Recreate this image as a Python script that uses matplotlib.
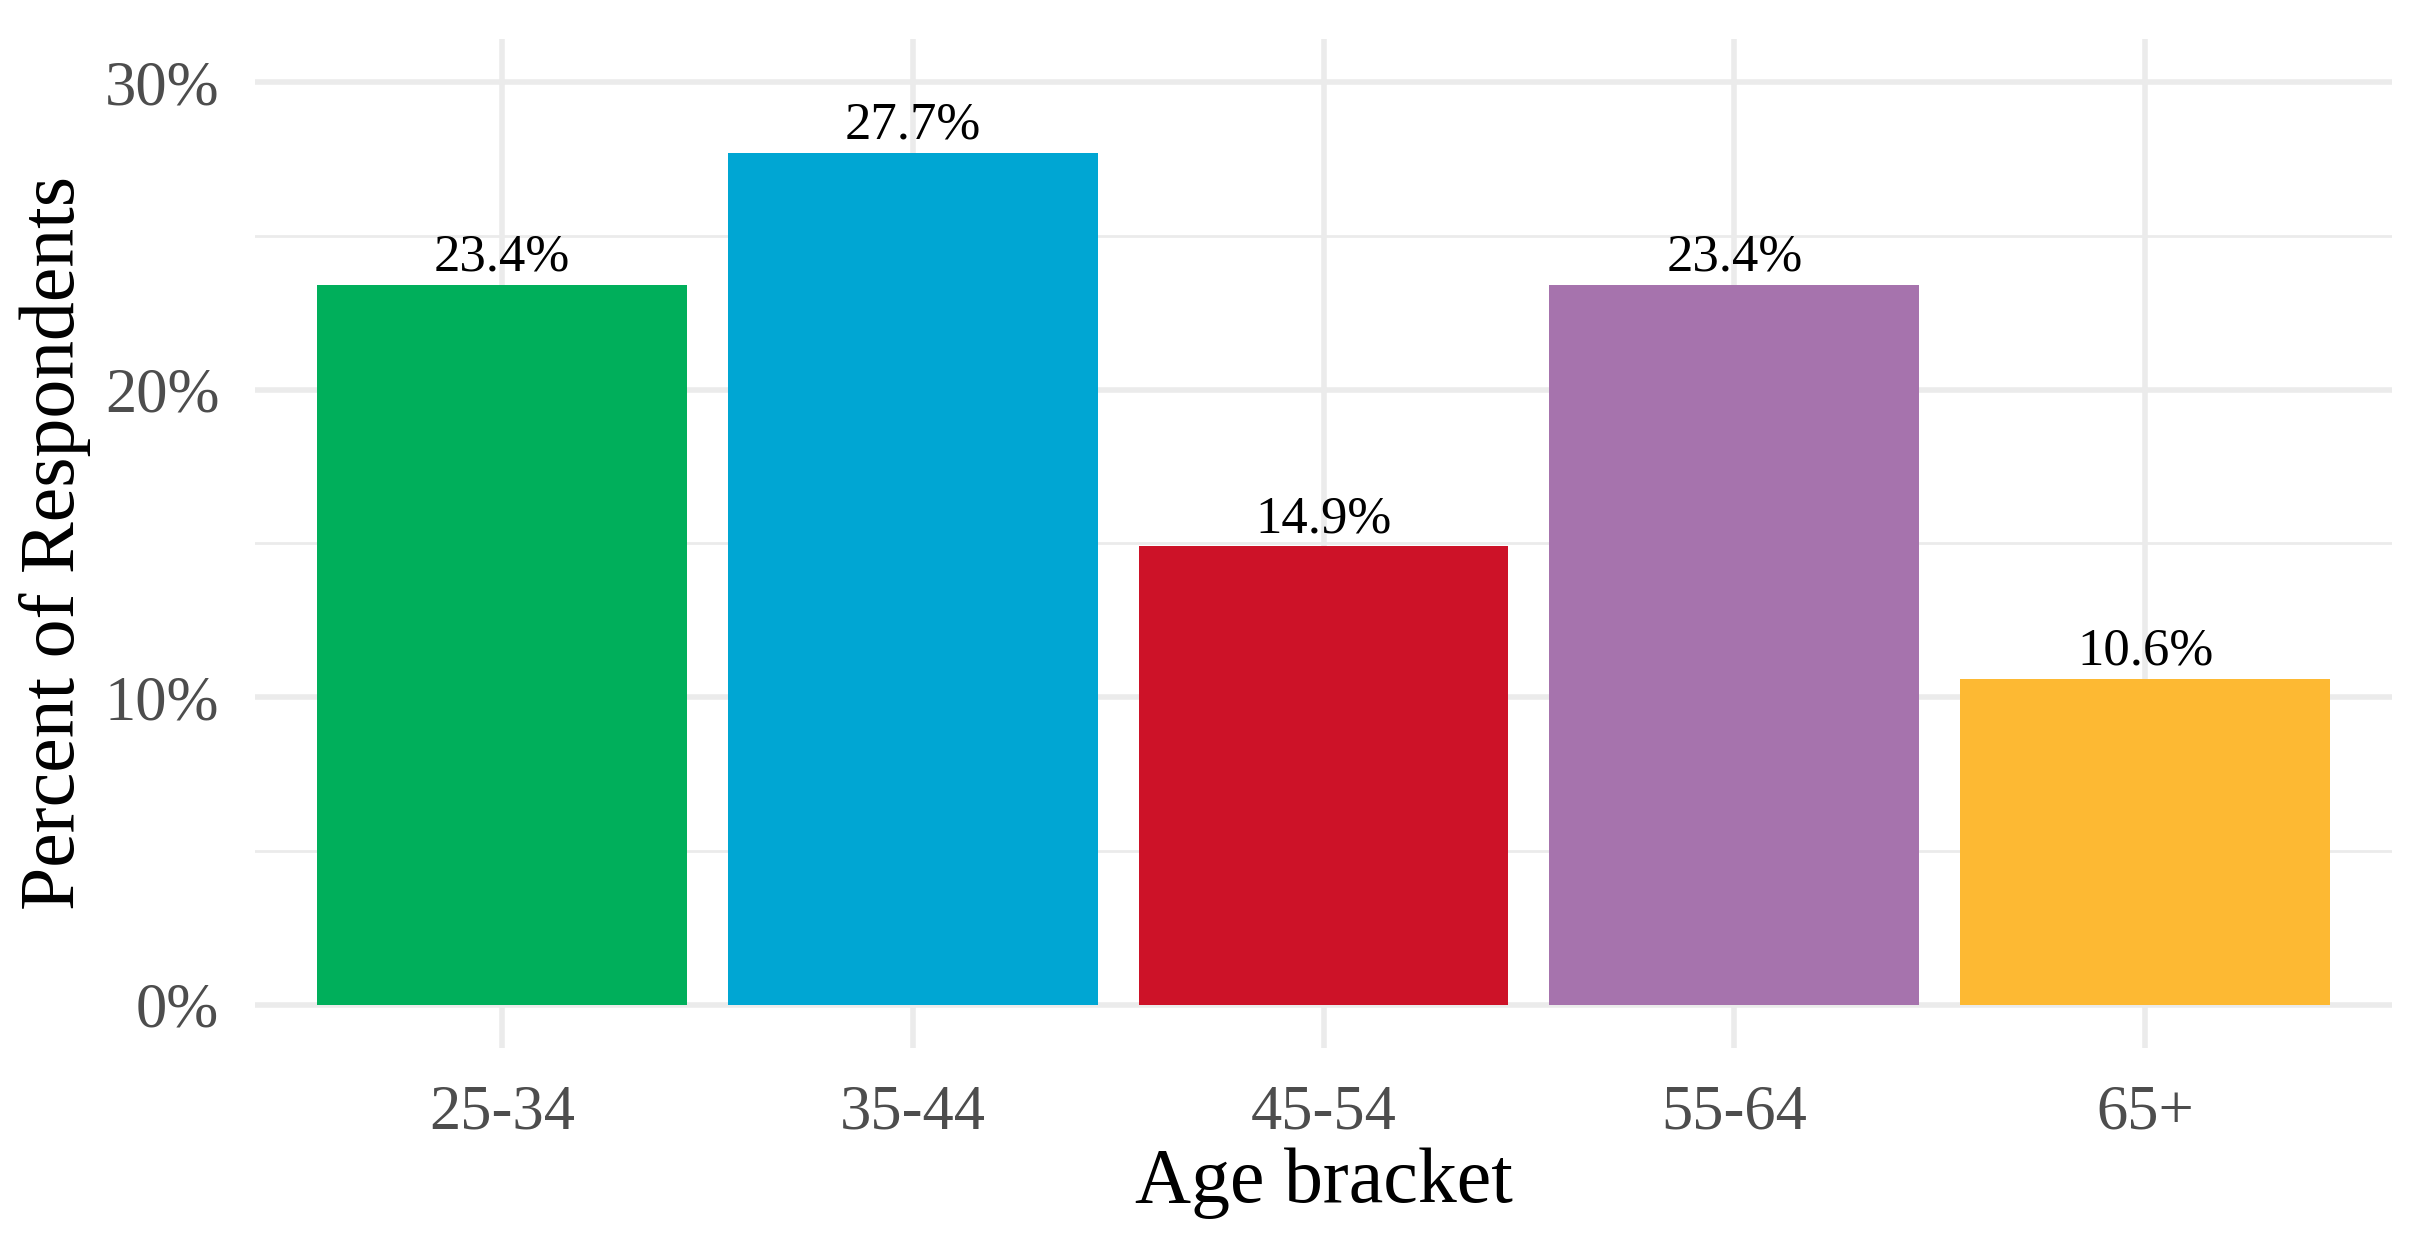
import matplotlib
matplotlib.use('Agg')
import matplotlib.pyplot as plt
from matplotlib.ticker import FuncFormatter, MultipleLocator

age_brackets = ['25-34', '35-44', '45-54', '55-64', '65+']
percents = [23.4, 27.7, 14.9, 23.4, 10.6]
bar_colors = ['#00AF5B', '#00A6D3', '#CD1228', '#A673AD', '#FDB933']
y_ticks = [0, 10, 20, 30]

plt.rcParams['font.family'] = ['Liberation Serif', 'DejaVu Serif']

fig = plt.figure(figsize=(24.33, 12.5), dpi=100)
ax = fig.add_axes([0.105, 0.1616, 0.878, 0.8074])

x = list(range(1, len(age_brackets) + 1))
ax.bar(x, percents, width=0.9, color=bar_colors, zorder=3)

# value labels above bars
for xi, v in zip(x, percents):
    ax.text(xi, v + 0.1, f'{v:.1f}%', ha='center', va='bottom',
            fontsize=38, color='black', zorder=4)

ax.set_xlim(0.4, len(age_brackets) + 0.6)
ax.set_ylim(-1.41, 31.41)
ax.set_xticks(x)
ax.set_xticklabels(age_brackets)
ax.set_yticks(y_ticks)
ax.yaxis.set_minor_locator(MultipleLocator(5))
ax.yaxis.set_major_formatter(FuncFormatter(lambda v, p: f'{v:.0f}%'))

ax.grid(True, which='major', color='#EBEBEB', linewidth=4, zorder=0)
ax.grid(True, which='minor', axis='y', color='#EBEBEB', linewidth=2, zorder=0)
ax.tick_params(which='both', length=0)
ax.tick_params(axis='y', labelsize=45, labelcolor='#4D4D4D', pad=26)
ax.tick_params(axis='x', labelsize=45, labelcolor='#4D4D4D', pad=26)
for s in ax.spines.values():
    s.set_visible(False)

ax.set_xlabel('Age bracket', fontsize=56, labelpad=4)
ax.set_ylabel('Percent of Respondents', fontsize=56, labelpad=10)

fig.savefig('out.png', dpi=100, facecolor='white')
